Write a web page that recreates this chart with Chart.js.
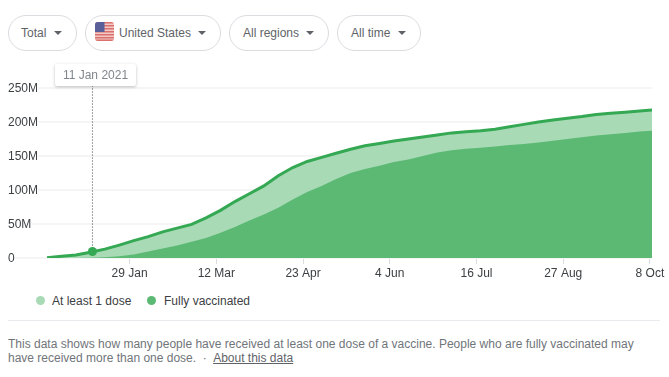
<!DOCTYPE html>
<html lang="en">
<head>
  <meta charset="UTF-8">
  <title>Vaccinations - United States</title>
  <script src="https://cdn.jsdelivr.net/npm/chart.js"></script>
  <style>
    body { margin: 0; background: #fff; font-family: "Liberation Sans", Arial, sans-serif; font-size: 12px; color: #3c4043; }
    #page { position: relative; width: 669px; height: 377px; overflow: hidden; }
    #page canvas { position: absolute; left: 0; top: 60px; }
    .chip { position: absolute; top: 15px; height: 34px; border: 1px solid #dadce0; border-radius: 18px; box-sizing: content-box; }
    .chip span { position: absolute; top: 10px; line-height: 14px; white-space: nowrap; color: #5f6368; }
    .chip i { position: absolute; top: 15px; width: 0; height: 0; border-left: 4px solid transparent; border-right: 4px solid transparent; border-top: 4px solid #5f6368; }
    .chip svg { position: absolute; left: 9px; top: 6px; border-radius: 3px; }
    #date-tip { position: absolute; left: 55px; top: 64px; width: 81px; height: 22px; line-height: 22px; text-align: center; background: #fff; border-radius: 2px; box-shadow: 0 1px 3px rgba(60,64,67,.35); color: #80868b; }
    .dot { position: absolute; top: 296px; width: 9px; height: 9px; border-radius: 50%; }
    .leg { position: absolute; top: 294px; line-height: 14px; color: #3c4043; white-space: nowrap; }
    #rule { position: absolute; left: 8px; top: 320px; width: 652px; height: 1px; background: #e8eaed; }
    #note { position: absolute; left: 8px; top: 337px; width: 640px; line-height: 14px; color: #70757a; }
    #note u { color: #5f6368; margin-left: 3px; }
  </style>
</head>
<body>
<div id="page">
  <div class="chip" style="left:8px;width:67px"><span style="left:12px">Total</span><i style="left:45px"></i></div>
  <div class="chip" style="left:85px;width:134px">
    <svg width="19" height="19" viewBox="0 0 19 19">
      <rect width="19" height="19" fill="#f3c9c6"/>
      <rect y="0" width="19" height="1.5" fill="#d9706c"/><rect y="3" width="19" height="1.5" fill="#d9706c"/>
      <rect y="6" width="19" height="1.5" fill="#d9706c"/><rect y="9" width="19" height="1.5" fill="#d9706c"/>
      <rect y="12" width="19" height="1.5" fill="#d9706c"/><rect y="15" width="19" height="1.5" fill="#d9706c"/>
      <rect y="17.5" width="19" height="1.5" fill="#d9706c"/>
      <rect width="9.5" height="10" fill="#5b5f99"/>
    </svg>
    <span style="left:33px">United States</span><i style="left:112px"></i></div>
  <div class="chip" style="left:229px;width:98px"><span style="left:13px">All regions</span><i style="left:76px"></i></div>
  <div class="chip" style="left:337px;width:82px"><span style="left:13px">All time</span><i style="left:60px"></i></div>

  <canvas id="chart" width="669" height="230"></canvas>
  <div id="date-tip">11 Jan 2021</div>

  <div class="dot" id="dot0" style="left:36px"></div><div class="leg" id="leg0" style="left:52px"></div>
  <div class="dot" id="dot1" style="left:147px"></div><div class="leg" id="leg1" style="left:164px"></div>
  <div id="rule"></div>
  <div id="note">This data shows how many people have received at least one dose of a vaccine. People who are fully vaccinated may have received more than one dose. &nbsp;&middot;&nbsp;<u>About this data</u></div>
</div>

<script>
  // days since 20 Dec 2020
  const days = [0,7,14,21,28,35,42,49,56,63,70,77,84,91,98,105,112,119,126,133,140,147,154,161,168,175,182,189,196,203,210,217,224,231,238,245,252,259,266,273,280,287,293];
  // millions of people
  const atLeastOne = [0.5,2.5,4.5,8.5,13,19,25.5,31.5,38.5,44,49.5,59,70,83,94.5,106,121,133,142,148,154,160,165,168.5,172,175,178,181,184,185.5,187,189.5,193,196.5,200,203,205.5,208,211,213,214.5,216,217.5];
  const fully = [0,0,0,0.2,1,2.5,5,9.5,14,18.5,24,29.5,37,45.5,55,64,74,86,97,106,116,125,131,135.5,141,145,150,155,158.5,160.5,162,164,166,167.5,170,172.5,175,177.5,180,182,184,186,187];
  const seriesNames = ['At least 1 dose', 'Fully vaccinated'];
  const seriesColors = ['#a8dab5', '#5bb974'];
  const lineColor = '#34a853';
  const tickDays = [40,82,124,166,208,250,292];
  const tickLabels = ['29 Jan','12 Mar','23 Apr','4 Jun','16 Jul','27 Aug','8 Oct'];
  const markerDay = 22;
  const markerValue = 9.5;

  seriesNames.forEach((n, i) => {
    document.getElementById('leg' + i).textContent = n;
    document.getElementById('dot' + i).style.background = seriesColors[i];
  });

  const toPoints = vals => vals.map((v, i) => ({ x: days[i], y: v }));

  new Chart(document.getElementById('chart'), {
    type: 'line',
    data: {
      datasets: [
        { data: [{ x: markerDay, y: markerValue }], pointRadius: 4.5, pointBackgroundColor: lineColor, pointBorderWidth: 0, showLine: false, order: 0 },
        { data: [{ x: markerDay, y: markerValue }, { x: markerDay, y: 255 }], borderColor: '#3c4043', borderWidth: 1, borderDash: [1, 2], pointRadius: 0, clip: false, order: 1 },
        { label: seriesNames[1], data: toPoints(fully), borderWidth: 0, backgroundColor: seriesColors[1], fill: 'origin', pointRadius: 0, tension: 0, order: 3 },
        { label: seriesNames[0], data: toPoints(atLeastOne), borderColor: lineColor, borderWidth: 3, backgroundColor: seriesColors[0], fill: 'origin', pointRadius: 0, tension: 0, order: 4 }
      ]
    },
    options: {
      responsive: false,
      animation: false,
      layout: { padding: { left: 8, right: 17, top: 28, bottom: 0 } },
      plugins: { legend: { display: false }, tooltip: { enabled: false } },
      scales: {
        x: {
          type: 'linear',
          min: -18.9,
          max: 293,
          afterBuildTicks: s => { s.ticks = tickDays.map(v => ({ value: v })); },
          afterFit: s => { s.height = 32; },
          grid: { drawOnChartArea: false, color: '#dadce0', tickLength: 6 },
          border: { display: false },
          ticks: {
            autoSkip: false, maxRotation: 0, padding: 2, color: '#3c4043',
            font: { family: '"Liberation Sans"', size: 12 },
            callback: v => tickLabels[tickDays.indexOf(v)]
          }
        },
        y: {
          min: 0,
          max: 250,
          afterFit: s => { s.width = 0; },
          grid: { color: '#f5f5f5', lineWidth: 2, drawTicks: false },
          border: { display: false },
          ticks: {
            stepSize: 50, mirror: true, padding: 0, labelOffset: 1, color: '#3c4043',
            font: { family: '"Liberation Sans"', size: 12 },
            showLabelBackdrop: true, backdropColor: '#fff', backdropPadding: { x: 0, y: 2 },
            callback: v => v === 0 ? '0' : v + 'M'
          }
        }
      }
    }
  });
</script>
</body>
</html>
